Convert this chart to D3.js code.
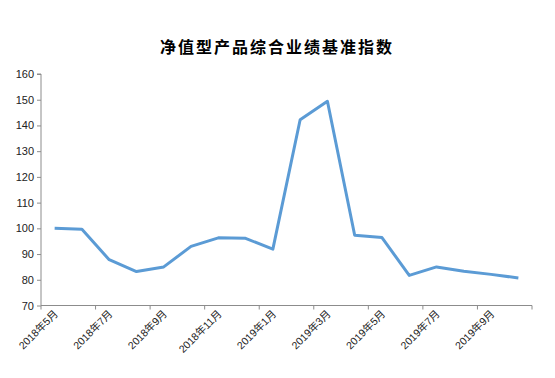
<!DOCTYPE html>
<html>
<head>
<meta charset="utf-8">
<script src="https://cdn.jsdelivr.net/npm/d3@7"></script>
<style>
  body { margin: 0; background: #fff; }
  #viz { width: 555px; height: 378px; }
</style>
</head>
<body>
<div id="viz"></div>
<script>
const months = ['2018年5月', '2018年6月', '2018年7月', '2018年8月', '2018年9月', '2018年10月',
  '2018年11月', '2018年12月', '2019年1月', '2019年2月', '2019年3月', '2019年4月',
  '2019年5月', '2019年6月', '2019年7月', '2019年8月', '2019年9月', '2019年10月'];
const indexValues = [100, 99.6, 87.8, 83.2, 85, 93, 96.3, 96.1, 91.9, 142.2, 149.4, 97.3,
  96.4, 81.7, 85, 83.3, 82.1, 80.7];
const yTicks = [70, 80, 90, 100, 110, 120, 130, 140, 150, 160];

const w = 555;
const h = 378;
const plotLeft = 41, plotRight = 532, plotTop = 74, plotBottom = 305.5;

const svg = d3.select('#viz').
append('svg').
attr('width', w).
attr('height', h);

svg.append('text').
attr('class', 'title').
attr('x', 277).
attr('y', 53).
attr('text-anchor', 'middle').
style('font-family', '"Noto Sans CJK SC", sans-serif').
style('font-size', '16px').
style('font-weight', 'bold').
style('letter-spacing', '2px').
attr('fill', '#000').
text('净值型产品综合业绩基准指数');

const xScale = d3.scaleBand().
domain(months).
range([plotLeft, plotRight]);

const yScale = d3.scaleLinear().
domain([70, 160]).
range([plotBottom, plotTop]);

// y axis
const yAxis = d3.axisLeft(yScale).tickValues(yTicks).tickSize(4).tickPadding(3);
const gy = svg.append('g').
attr('transform', 'translate(' + plotLeft + ',0)').
call(yAxis);
gy.select('.domain').attr('d', 'M-4,' + plotTop + 'H0V' + plotBottom);

// x axis: tick marks at band edges every 2 months
const edges = d3.range(0, months.length + 1, 2).map(i => plotLeft + i * xScale.step());
const gx = svg.append('g');
gx.append('line').
attr('x1', plotLeft).attr('x2', plotRight).
attr('y1', plotBottom).attr('y2', plotBottom);
gx.selectAll('.xt').
data(edges).
enter().
append('line').
attr('class', 'xt').
attr('x1', d => d).attr('x2', d => d).
attr('y1', plotBottom).attr('y2', plotBottom + 4);

gx.selectAll('.xl').
data(months.filter((m, i) => i % 2 === 0)).
enter().
append('text').
attr('class', 'xl').
attr('transform', d => 'translate(' + (xScale(d) + xScale.bandwidth() / 2 + 4) + ',' + (plotBottom + 9) + ') rotate(-45)').
attr('text-anchor', 'end').
text(d => d);

svg.selectAll('.domain, line').
attr('stroke', '#8c8c8c');
svg.selectAll('text:not(.title)').
style('font-family', '"Liberation Sans", Arial, sans-serif').
style('font-size', '11px').
attr('fill', '#222');
gx.selectAll('.xl').style('font-family', '"Liberation Sans", "Noto Sans CJK SC", sans-serif').style('font-size', '10.5px');

const line = d3.line().
x((d, i) => xScale(months[i]) + xScale.bandwidth() / 2).
y(d => yScale(d));

svg.append('path').
datum(indexValues).
attr('d', line).
attr('fill', 'none').
attr('stroke', '#5b9bd5').
attr('stroke-width', 3).
attr('stroke-linejoin', 'round');
</script>
</body>
</html>
